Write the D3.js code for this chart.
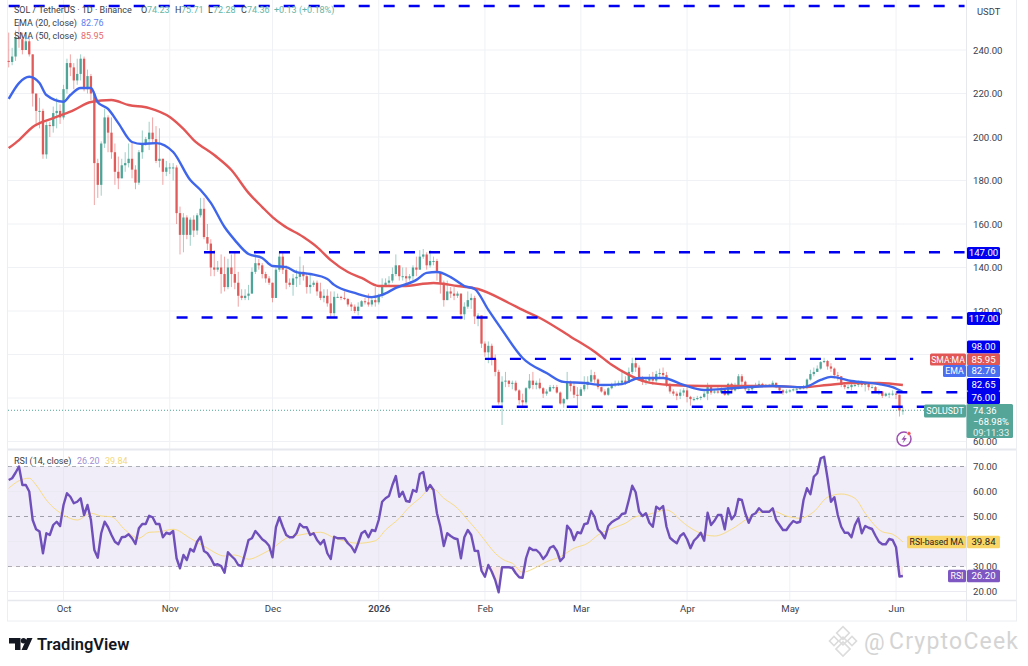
<!DOCTYPE html>
<html><head><meta charset="utf-8">
<script src="https://cdn.jsdelivr.net/npm/d3@7/dist/d3.min.js"></script>
<style>
html,body{margin:0;padding:0;background:#fff;overflow:hidden}
svg{display:block}
text{font-family:Roboto,"Noto Sans",sans-serif}
.axis path,.axis line{display:none}
.axis text{fill:#3c404b;font-family:Roboto,"Noto Sans",sans-serif}
</style></head><body><svg id="c" width="1028" height="666"></svg>
<script>
// ---------- data: one line per month (Sep 15 2025 .. Jun 3 2026) ----------
const firstDay = "2025-09-15";
const firstOpen = 235;
const closes = [
234.5,237,246,245,240,244,238,220,212,212,192,205.5,205,211,212,209,
222,234,232,226,229,236,222,228,220,188,178,197,209,202,193,184,181,187,188,190,185,179,193,197,199,202,199,189,190,184,186,
186,186,165,155,163,155,162,157,164,167,154,151,140,139,140,137,131,140,137,133,127,126,127,128,138,142,141,137,135,133,
126,139,145,139,133,132,135,135.7,138,136,131,132,133,129,126,127,123.5,119,126.5,126.5,126,125.5,123,122,120,122,124.5,124,123,125,124,
127,131.5,133,134,137,141,136,136,135,136,140,139,145,146,141,143,143,138,133,125,129,128,127,128,118.5,122,125,126,117.5,118,105,
101,104,98,92,78,87.5,88,86.5,87,83.5,79,78,84.5,88,86,87,84.5,82,83,85,85,82.5,77.5,79.5,87.5,85.5,81.5,81,
84,86,87.5,90.5,88.5,85,83,81.5,84.5,86,86.5,87,88,87,92,96,94,89,87.5,88,89,88,91,91.5,90.5,86,83,82,81,82.5,83.5,
80.5,79.5,79.5,80,80.5,82,85,82.5,83,82.5,84,81.5,86.5,83.5,86,90,87.5,84,84,85,86,86.5,85.5,86,86,87,85,83.5,82.5,83,
83.5,84,84,84.5,85,88.5,91,92,93.5,96.5,97,94.5,93.5,90.5,90,86,85,85,86,86,87,86,86.5,85,85,83,83,81,82,82,82,
81.5,74.23,74.36];
const highs = [
248,241,249,253,248,247,246,238,218,218,213,207,207,214,218,215,
224,236,238,234,236,238,237,231,229,221,190,198,213,210,209,197,191,190,193,197,198,187,194,203,200,207,209,205,204,190,189,
188,188,187,168,165,164,163,164,165,172,172,160,153,148,143,146,145,144,146,147,138,130,130,132,140,146,144,142,138,136,
133,140,147,147,141,135,137,139,145,141,137,137,134,134,133,130,130,129,129,128,127,129,126,124,123,124,125,126,128,126,131,
128,135,135,136,140,146,141,140,140,137,141,145,148,148.5,147,148,145,144,138,134,134,131,131,129,128,124,129,128,127,119,117,
106,106,105,100,93,90,92,88,88,88,84,82,85,91,92,88,89,85,84,86,86,86,83,80,92,88,87,85,
85,90,90,93,92,89,85,84,85,87,88,88,93,90,94,98.5,98,95,90,89.5,91,92,92.5,93.5,94,92,87,84,83,84,84.5,
86,81,80.5,81,81,83,87,86,84,85,85,84.5,87,87,87,91,91,88,86,86,87,88,87,86.5,86.5,88,87,85,84,84,
84,84.5,85,85,86,89,93,94,95,97,98.5,97.5,96,94,92,90,86.5,86,86.5,87,88,88,87,87,86,85.5,84,83,82.5,82.5,83.5,
83,81.5,75.71];
const lows = [
232,233,235,241,238,240,237,214,205,204,190,190,200,202,204,206,
208,220,228,222,224,226,221,220,217,168.7,172,173,195,193,190,178,176,181,184,186,181,176,178,190,196,194,197,188,186,178,182,
183,180,160,146,147,153,150,154,155,163,153,148,136,136,138,128,129,130,131,130,122,125,125,125,128,137,139,135,133,132,
124,126,138,137,130,131,127,131,132,134,128,128,131,127,125,124,122,117,117,126,125,125,122,120,119,118,122,123,122,122,122,
123,126,131,132,133,136,134,134,132,134,134,136,139,144,139,140,141,134,128,122,125,126,125,126,116,116,121,121,114,113,103,
99,96,95,90,77,67.6,85,85,84,83,77,76,77,84,84,84,84,80,81,83,84,82,77,75.5,79,83,80,76.5,
81,83,84,87,87,84,82.5,81,81,84,85,85.5,86,86,87,91,92,88,86,86,87.5,86,87,89.5,89,85,82,81,79,79.5,81,
78,76.5,78.5,79,79,80,79,81.5,82,82,82,81,81,83,83,84,86,83,83,83,85,85.5,85,85,85.5,86,84.5,83,81.5,82,
82.5,83,83.5,84,84,84,88,90,92,93,96,93,92,89,88,85,84,84,83.5,85,85,85,83,83.5,84.5,82.5,81.5,80,80.5,80,81,
79.5,71.5,72.28];

// moving averages: readings at the listed day numbers (day 0 = firstDay)
const emaDays = [0,3,6,9,11,16,18,21,24,26,29,32,36,39,43,48,53,56,59,63,66,70,74,77,81,84,88,93,95,101,106,109,113,119,122,125,129,133,136,140,144,150,157,162,168,173,179,184,191,197,203,212,223,232,237,240,246,254,258,261];
const emaValues = [217.5,224.8,227.7,224.8,219.3,216.2,219.3,222.5,222.5,216,212.9,206.4,197.7,196.8,197.2,193.1,180.2,175.6,169.7,158.6,152.6,146.2,144.4,140.7,140.2,137.9,137,134.7,132,128.3,126.4,127.4,130.6,134.3,137.5,137.9,135.6,131.5,130.1,120.5,111.3,98.4,91.5,87.4,86.9,86,86.4,89.2,89.2,86,83.7,84.6,85.5,85,88.3,89.7,87.8,86.4,85,82.76];
const smaDays = [0,3,7,13,19,24,30,35,41,47,51,54,60,65,70,74,77,80,86,90,94,99,103,108,115,124,131,137,146,150,156,164,171,176,181,186,193,203,216,223,232,239,246,254,261];
const smaValues = [194.9,198.6,204.6,208.7,212.4,216.1,217,214.7,213.3,209.2,203.7,198.6,191.7,184.8,174.3,167.8,163.2,159.5,154,149.4,143.4,137.9,135.2,131.5,131.5,132.9,131.5,130.1,123.7,120.5,116,108.2,101.3,95.3,90.6,87.4,86,85.5,85.5,85.5,85,86,86.9,86.9,85.95];

// RSI, one value per day
const rsiValues = [
64.6,65.3,67.5,70,62.6,62.6,60,48.6,44.9,44,35.3,43.3,42.6,46.6,47.9,46.2,
54.6,59.3,57.9,55.3,55.9,57.3,50.6,54.6,48.6,36.6,33.5,43.3,47.9,45.7,42.6,39.9,38.9,41.7,41.9,42.9,41.3,39,45.3,47,47,50.3,49.7,47,47,41.7,43.5,
43,44.2,33.3,29.3,34.6,32.6,37,36,39.9,41.9,36.2,35.3,33.3,30.6,30.9,30.2,27.5,35.7,34.2,32.9,30.6,30.2,35.3,40.6,41.3,44.2,42.6,40.9,39.9,38.3,
33.7,45.7,49.7,45.9,42.6,41.7,41.7,43.3,47,45.7,45.7,42.6,43.3,40.6,38.9,40.6,35.3,33,41.9,41.3,41.3,41.3,39.3,38,35.7,39.3,43.3,44.2,41.7,44.6,44.2,
48.6,55.9,57.3,58.2,62.6,66.2,57.9,59.9,56.2,55.9,60.6,59.9,67,67.8,60.3,62.6,60.6,51.3,45.9,38.2,43.3,42.2,41.3,40.9,33.3,41.7,44.6,42.6,36.3,36.2,28.3,
25.9,30.6,27.9,24.6,19.7,29.7,29.7,29.7,29.4,27.3,25.7,25.5,33.3,37.5,36.6,36.6,35.3,33,34.6,37.5,38.2,36.2,32.2,33.7,46.3,44.6,40.6,43.7,
43.3,46.9,47.3,52.2,49.9,44.9,43.5,41.3,46.2,47.7,48.6,49.3,51,51.3,56.6,62.3,59.7,52,50.2,51.3,47.5,45.9,53.9,52.9,54.2,45.9,41.5,40.3,39.3,42.2,43.3,
40.9,37.3,40.3,41.7,43.5,40.3,51.5,46.6,48.3,50.6,50.6,44.9,53.3,48.9,50.6,57,56.6,51.3,47.5,50.6,51.3,53.3,51.9,51.9,51.9,53.3,48.6,46.6,44.6,44.6,
46.6,48.2,47.5,47.9,56.6,61.3,58.9,65.9,67.3,73.3,73.9,65.3,55.9,57.7,50.6,45.9,43.5,43.5,41.7,46.6,49.3,43.3,46.2,45.5,45,42.3,39.9,38.9,38.9,41,40.6,
37.7,26,26.2];
const rsiMaDays = [0,3,6,8,11,16,20,24,27,30,34,38,41,44,48,53,58,63,66,70,74,77,81,85,91,95,102,107,110,114,117,120,123,124,127,131,134,137,140,142,145,147,150,154,157,161,165,169,172,177,180,183,186,192,194,196,201,206,211,215,218,223,227,231,235,239,243,247,250,255,258,261];
const rsiMaValues = [61.3,64.3,65.3,62.6,56.6,50.6,48.6,51.3,50.2,49.9,44.6,41.3,43.7,43.9,44.9,41.3,37.3,34.2,34.6,32.9,35,37.3,41.3,42.6,43.7,41.5,39.3,40.3,44.6,49.3,53.9,57.3,60.9,60.9,57.3,53.3,48.6,43.9,38.6,35.3,32.3,31.3,27.7,29.7,31.9,33.9,37.3,39.3,42.6,45.7,47.3,49.9,50.6,52.6,51.3,48.6,43.9,42.2,44.9,48.6,51.3,52.2,50.2,49.3,51.9,57.7,59,57.3,51.3,43.9,42.9,39.84];

// horizontal drawn levels
const levelPrices = [260.2,147,117,98,82.65,76];
const levelStarts = ["2025-09-15","2025-11-11","2025-11-03","2026-02-01","2026-04-11","2026-02-03"];
const levelEnds   = ["2026-06-21","2026-06-21","2026-06-21","2026-06-06","2026-06-21","2026-06-10"];
const gridPrices = [240,220,200,180,160,140,120,100,80,60];
const priceTicks = [240,220,200,180,160,140,120,60];
const rsiTicks = [70,60,50,30,20];
const rsiGrid = [60,40,20];
const rsiDashed = [70,50,30];
const monthTicks = ["2025-10-01","2025-11-01","2025-12-01","2026-01-01","2026-02-01","2026-03-01","2026-04-01","2026-05-01","2026-06-01"];
const monthLabels = ["Oct","Nov","Dec","2026","Feb","Mar","Apr","May","Jun"];

// ---------- layout ----------
const L=8, R=966, FR=1016, PB=449, RB=600, AB=621;
const svg=d3.select("#c");
const UP="#4ea597", DOWN="#e25b5b";
const d0=new Date(firstDay+"T00:00:00Z");
const dayDate=i=>new Date(d0.getTime()+i*864e5);
const x=d3.scaleUtc().domain([d0,dayDate(261)]).range([8.7,902.9]);
const y=d3.scaleLinear().domain([240,60]).range([50,441.5]);
const r=d3.scaleLinear().domain([70,20]).range([466.5,591.5]);
const tickDates=monthTicks.map(s=>new Date(s+"T00:00:00Z"));

// grid
const g=svg.append("g");
g.selectAll(".v").data(tickDates).join("line").attr("x1",d=>x(d)).attr("x2",d=>x(d)).attr("y1",0).attr("y2",RB).attr("stroke","#f0f1f4");
g.selectAll(".h").data(gridPrices).join("line").attr("x1",L).attr("x2",R).attr("y1",d=>y(d)).attr("y2",d=>y(d)).attr("stroke","#f0f1f4");

// RSI pane background
const rsiPane=svg.append("g");
rsiPane.append("rect").attr("x",L).attr("width",R-L).attr("y",r(70)).attr("height",r(30)-r(70)).attr("fill","#f0ecf8");
rsiPane.selectAll(".rg").data(rsiGrid).join("line").attr("x1",L).attr("x2",R).attr("y1",d=>r(d)).attr("y2",d=>r(d)).attr("stroke","#ebe9f1");
rsiPane.selectAll(".rd").data(tickDates).join("line").attr("x1",d=>x(d)).attr("x2",d=>x(d)).attr("y1",r(70)).attr("y2",r(30)).attr("stroke","#e9e6f0");
rsiPane.selectAll(".rb").data(rsiDashed).join("line").attr("x1",L).attr("x2",R).attr("y1",d=>r(d)).attr("y2",d=>r(d))
  .attr("stroke","#9f9fa9").attr("stroke-dasharray","4 4");

// frame
const frame=svg.append("g").attr("fill","none");
frame.append("rect").attr("x",L-.5).attr("y",-1).attr("width",FR-L+1).attr("height",AB+1).attr("stroke","#eceef2");
frame.append("line").attr("x1",L).attr("x2",FR).attr("y1",PB+.5).attr("y2",PB+.5).attr("stroke","#e6e8ee").attr("stroke-width",2);
frame.append("line").attr("x1",L).attr("x2",FR).attr("y1",RB+.5).attr("y2",RB+.5).attr("stroke","#e6e8ee").attr("stroke-width",1.5);
frame.append("line").attr("x1",R+.5).attr("x2",R+.5).attr("y1",0).attr("y2",AB).attr("stroke","#e6e8ee");

// axes
const pa=svg.append("g").attr("class","axis").attr("transform",`translate(${R+1},0)`)
  .call(d3.axisRight(y).tickValues(priceTicks).tickSize(0).tickPadding(6).tickFormat(d3.format(".2f")));
pa.selectAll("text").attr("font-size",9.6);
const ra=svg.append("g").attr("class","axis").attr("transform",`translate(${R+1},0)`)
  .call(d3.axisRight(r).tickValues(rsiTicks).tickSize(0).tickPadding(6).tickFormat(d3.format(".2f")));
ra.selectAll("text").attr("font-size",9.6);
const ta=svg.append("g").attr("class","axis").attr("transform",`translate(0,${RB})`)
  .call(d3.axisBottom(x).tickValues(tickDates).tickSize(0).tickPadding(5).tickFormat((d,i)=>monthLabels[i]));
ta.selectAll("text").attr("font-size",9.6).attr("font-weight",d=>d.getUTCMonth()===0?600:400);

// candles
const candles=closes.map((c,i)=>({i,c,o:i?closes[i-1]:firstOpen,h:highs[i],l:lows[i]}));
const cg=svg.append("g");
cg.selectAll("line").data(candles).join("line")
  .attr("x1",d=>x(dayDate(d.i))).attr("x2",d=>x(dayDate(d.i)))
  .attr("y1",d=>y(d.h)).attr("y2",d=>y(d.l))
  .attr("stroke",d=>d.c>=d.o?UP:DOWN).attr("stroke-width",1).attr("stroke-opacity",.55);
cg.selectAll("rect").data(candles).join("rect")
  .attr("x",d=>x(dayDate(d.i))-1.15).attr("width",2.3)
  .attr("y",d=>Math.min(y(d.o),y(d.c)))
  .attr("height",d=>Math.max(1,Math.abs(y(d.o)-y(d.c))))
  .attr("fill",d=>d.c>=d.o?UP:DOWN);

// moving averages
const lineOf=(days,vals,sc)=>d3.line().x((_,i)=>x(dayDate(days[i]))).y(d=>sc(d)).curve(d3.curveMonotoneX)(vals);
svg.append("path").attr("d",lineOf(smaDays,smaValues,y)).attr("fill","none").attr("stroke","#e25656").attr("stroke-width",2.4);
svg.append("path").attr("d",lineOf(emaDays,emaValues,y)).attr("fill","none").attr("stroke","#3f66ea").attr("stroke-width",2.4);

// dashed levels
svg.append("g").selectAll("line").data(levelPrices).join("line")
  .attr("x1",(d,i)=>x(new Date(levelStarts[i]+"T00:00:00Z")))
  .attr("x2",(d,i)=>x(new Date(levelEnds[i]+"T00:00:00Z")))
  .attr("y1",d=>y(d)).attr("y2",d=>y(d))
  .attr("stroke","#0000f0").attr("stroke-width",2.4).attr("stroke-dasharray","11 14");

// last price line
svg.append("line").attr("x1",L).attr("x2",R).attr("y1",y(74.36)).attr("y2",y(74.36))
  .attr("stroke",UP).attr("stroke-dasharray","1 2");

// RSI
svg.append("clipPath").attr("id","under").append("rect").attr("x",L).attr("width",R-L).attr("y",r(30)).attr("height",RB-r(30));
svg.append("clipPath").attr("id","over").append("rect").attr("x",L).attr("width",R-L).attr("y",450).attr("height",r(70)-450);
const rsiArea=d3.area().x((_,i)=>x(dayDate(i))).y1(d=>r(d));
svg.append("path").attr("d",rsiArea.y0(r(30))(rsiValues)).attr("clip-path","url(#under)").attr("fill","#f7e4e4").attr("opacity",.8);
svg.append("path").attr("d",rsiArea.y0(r(70))(rsiValues)).attr("clip-path","url(#over)").attr("fill","#e0f0ea").attr("opacity",.8);
svg.append("path").attr("d",lineOf(rsiMaDays,rsiMaValues,r)).attr("fill","none").attr("stroke","#f8dc84").attr("stroke-width",1);
svg.append("path").attr("d",d3.line().x((_,i)=>x(dayDate(i))).y(d=>r(d))(rsiValues)).attr("fill","none").attr("stroke","#6f50bb").attr("stroke-width",2.4).attr("stroke-linejoin","round");

// price tags
function tag(x0,w,cy,h,fill,txt,col,fs){
  svg.append("rect").attr("x",x0).attr("y",cy-h/2).attr("width",w).attr("height",h).attr("rx",1.5).attr("fill",fill);
  svg.append("text").attr("x",x0+w/2).attr("y",cy+3.4).attr("text-anchor","middle").attr("font-size",fs||9.6).attr("fill",col).text(txt);
}
const BLUE="#0000f0";
tag(967,33,253,12,BLUE,"147.00","#fff");
tag(967,33,318.5,13,BLUE,"117.00","#fff");
tag(967,33,347,13,BLUE,"98.00","#fff");
tag(930,36,359.5,12,"#e25656","SMA:MA","#fff",8.6);
tag(967,33,359.5,12,"#e25656","85.95","#fff");
tag(943,23,371,12,"#4a6ff0","EMA","#fff",8.8);
tag(967,33,371,12,"#4a6ff0","82.76","#fff");
tag(967,33,384.5,13,BLUE,"82.65","#fff");
tag(967,33,397.5,13,BLUE,"76.00","#fff");
tag(924,42,411,13,"#55a598","SOLUSDT","#fff",8.8);
svg.append("rect").attr("x",966.5).attr("y",404).attr("width",46.5).attr("height",34).attr("rx",1.5).attr("fill","#55a598");
[["74.36",411],["−68.98%",422],["09:11:33",433]].forEach(([t,yy],i)=>{
  svg.append("text").attr("x",973).attr("y",yy+3).attr("font-size",9.4).attr("fill",i==2?"#e6f3f0":"#fff").text(t);
});
tag(907,59,542,12.5,"#f8d565","RSI-based MA","#222",8.6);
tag(967,33,542,12.5,"#f8d565","39.84","#222");
tag(948,18,576,12.5,"#7e57c2","RSI","#fff",8.8);
tag(967,33,576,12.5,"#7e57c2","26.20","#fff");

// legends
function leg(xx,yy,t,col){svg.append("text").attr("x",xx).attr("y",yy).attr("font-size",9).attr("fill",col).text(t);}
const DK="#3a3e4a", TEAL="#63b5a6";
leg(14,13,"SOL / TetherUS · 1D · Binance",DK);
leg(141,13,"O",DK);leg(147,13,"74.23",TEAL);
leg(175,13,"H",DK);leg(181,13,"75.71",TEAL);
leg(208,13,"L",DK);leg(213,13,"72.28",TEAL);
leg(241,13,"C",DK);leg(247,13,"74.36",TEAL);
leg(274,13,"+0.13 (+0.18%)",TEAL);
leg(14,26,"EMA (20, close)",DK);leg(81,26,"82.76","#5e80f0");
leg(14,39,"SMA (50, close)",DK);leg(81,39,"85.95","#e86a6a");
leg(14,464,"RSI (14, close)",DK);leg(77,464,"26.20","#a08fd4");leg(105,464,"39.84","#f3d77e");
svg.append("text").attr("x",977).attr("y",14.5).attr("font-size",9.4).attr("fill",DK).text("USDT");

// lightning icon
const li=svg.append("g").attr("transform","translate(904,439)");
li.append("circle").attr("r",7).attr("fill","none").attr("stroke","#9c4fb0").attr("stroke-width",1.5);
li.append("path").attr("d","M1.5,-4.5 L-2.5,0.8 H0 L-1.5,4.5 L2.8,-1 H0.3 Z").attr("fill","#9c4fb0");
li.append("circle").attr("cx",5).attr("cy",-5.5).attr("r",2).attr("fill","#ef5350").attr("stroke","#fff").attr("stroke-width",.6);

// TradingView logo
const logo=svg.append("g").attr("fill","#131722");
logo.append("path").attr("d","M9,638 H20.5 V650 H15 V643.5 H9 Z");
logo.append("circle").attr("cx",23.5).attr("cy",640.8).attr("r",2.7);
logo.append("path").attr("d","M27,638 H32.5 L27,650 H21.5 Z");
svg.append("text").attr("x",37).attr("y",650).attr("font-family","Inter,Roboto,sans-serif").attr("font-size",16.5).attr("font-weight",600).attr("fill","#131722").text("TradingView");

// watermark
const wm=svg.append("g").attr("fill","none").attr("stroke","#dcdcdc").attr("stroke-width",1.6).attr("transform","translate(843,641)");
[[0,-8,4.5],[-9,0,3.2],[9,0,3.2],[0,8,5],[0,0,2.8]].forEach(([a,b,s])=>{
  wm.append("rect").attr("x",a-s).attr("y",b-s).attr("width",2*s).attr("height",2*s).attr("transform",`rotate(45 ${a} ${b})`);
});
svg.append("text").attr("x",864).attr("y",650).attr("font-family","'Noto Sans',sans-serif").attr("font-size",23).attr("fill","#d4d4d4").text("@");
svg.append("text").attr("x",889).attr("y",649).attr("font-family","'Noto Sans',sans-serif").attr("font-size",23).attr("letter-spacing",1.2).attr("fill","#d4d4d4").text("CryptoCeek");
</script></body></html>
